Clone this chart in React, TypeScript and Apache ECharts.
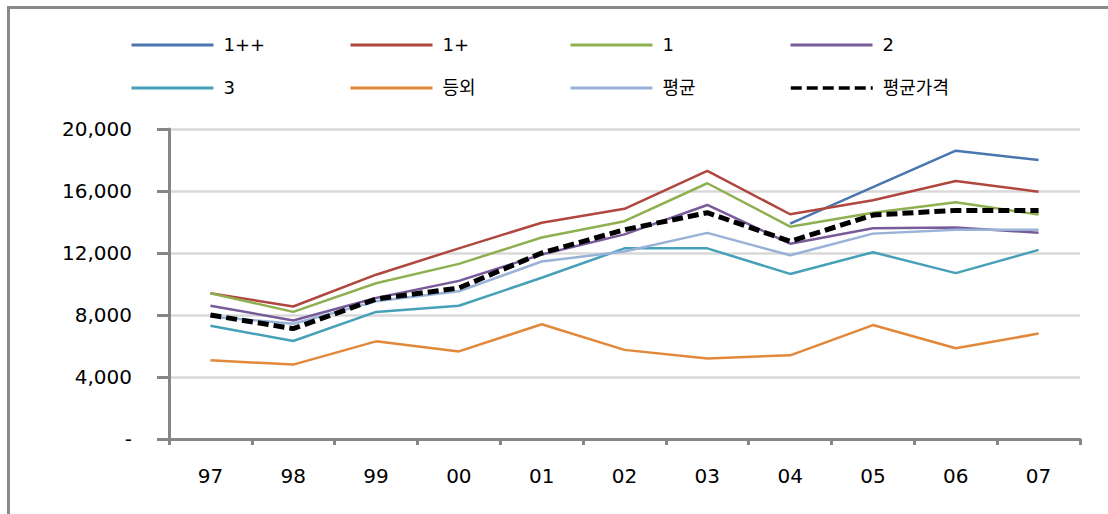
import React, { useEffect, useRef } from "react";
import * as echarts from "echarts";

const categories = ["97", "98", "99", "00", "01", "02", "03", "04", "05", "06", "07"];
const yTicks = [0, 4000, 8000, 12000, 16000, 20000];

const grade1pp = [null, null, null, null, null, null, null, 13900, 16250, 18600, 18000];
const grade1p = [9400, 8550, 10600, 12300, 13950, 14850, 17300, 14500, 15400, 16650, 15950];
const grade1 = [9400, 8200, 10050, 11300, 13000, 14050, 16500, 13700, 14600, 15270, 14480];
const grade2 = [8600, 7650, 9100, 10200, 11900, 13200, 15100, 12600, 13600, 13650, 13300];
const grade3 = [7300, 6320, 8200, 8600, 10400, 12300, 12300, 10650, 12050, 10700, 12200];
const gradeOut = [5080, 4800, 6300, 5650, 7400, 5750, 5200, 5400, 7350, 5850, 6800];
const avg = [7900, 7440, 8880, 9530, 11450, 12100, 13300, 11850, 13250, 13500, 13500];
const avgPrice = [8000, 7120, 9030, 9740, 12000, 13500, 14600, 12750, 14450, 14750, 14750];

const seriesNames = ["1++", "1+", "1", "2", "3", "등외", "평균", "평균가격"];
const seriesData = [grade1pp, grade1p, grade1, grade2, grade3, gradeOut, avg, avgPrice];
const seriesColors = ["#4a76b0", "#b0473f", "#8eb050", "#785c99", "#45a0b8", "#e2883a", "#98b2d8", "#000000"];

const FONT = "'DejaVu Sans', 'Noto Sans CJK KR', sans-serif";

export default function App() {
  const ref = useRef<HTMLDivElement>(null);

  useEffect(() => {
    document.body.style.margin = "0";
    if (!ref.current) return;
    const chart = echarts.init(ref.current, null, { renderer: "svg" });

    const legendLeft = [130, 349, 569, 789];
    const legendTop = [36, 79];
    const legends = seriesNames.map((name, i) => ({
      show: true,
      data: [name],
      left: legendLeft[i % 4],
      top: legendTop[Math.floor(i / 4)],
      padding: 0,
      itemWidth: 82,
      itemHeight: 14,
      itemGap: 0,
      selectedMode: false,
      itemStyle: { opacity: 0, color: "rgba(0,0,0,0)", borderWidth: 0 },
      lineStyle: { width: name === "평균가격" ? 3.5 : 3 },
      textStyle: {
        fontFamily: FONT,
        fontSize: 18,
        color: "#000",
        padding: [0, 0, 0, 5],
      },
    }));

    const series = seriesNames.map((name, i) => {
      const isPrice = name === "평균가격";
      return {
        name,
        type: "line",
        data: seriesData[i],
        symbol: "none",
        showSymbol: false,
        connectNulls: false,
        z: isPrice ? 5 : 3,
        lineStyle: {
          color: seriesColors[i],
          width: isPrice ? 5 : 2.5,
          type: isPrice ? [11, 5] : "solid",
        },
        itemStyle: { color: seriesColors[i] },
      };
    });

    chart.setOption({
      animation: false,
      backgroundColor: "#ffffff",
      graphic: [
        {
          type: "rect",
          shape: { x: 8.5, y: 7.5, width: 1300, height: 700 },
          style: { fill: "none", stroke: "#8a8a8a", lineWidth: 3 },
          silent: true,
          z: 100,
        },
      ],
      legend: legends,
      grid: { left: 169, right: 28, top: 129, bottom: 75, containLabel: false },
      xAxis: {
        type: "category",
        data: categories,
        boundaryGap: true,
        axisLine: { show: true, lineStyle: { color: "#868686", width: 3 } },
        axisTick: { show: true, length: 6, lineStyle: { color: "#868686", width: 3 } },
        axisLabel: { fontFamily: FONT, fontSize: 20, color: "#000", margin: 27 },
        splitLine: { show: false },
      },
      yAxis: {
        type: "value",
        min: yTicks[0],
        max: yTicks[yTicks.length - 1],
        interval: yTicks[1] - yTicks[0],
        axisLine: { show: true, lineStyle: { color: "#868686", width: 3 } },
        axisTick: { show: true, length: 12, lineStyle: { color: "#868686", width: 3 } },
        axisLabel: {
          fontFamily: FONT,
          fontSize: 20,
          color: "#000",
          margin: 37,
          formatter: (v: number) => (v === 0 ? "-" : v.toLocaleString("en-US")),
        },
        splitLine: { show: true, lineStyle: { color: "#d9d9d9", width: 2.5 } },
      },
      series,
    });

    return () => chart.dispose();
  }, []);

  return <div ref={ref} style={{ width: 1108, height: 514 }} />;
}
